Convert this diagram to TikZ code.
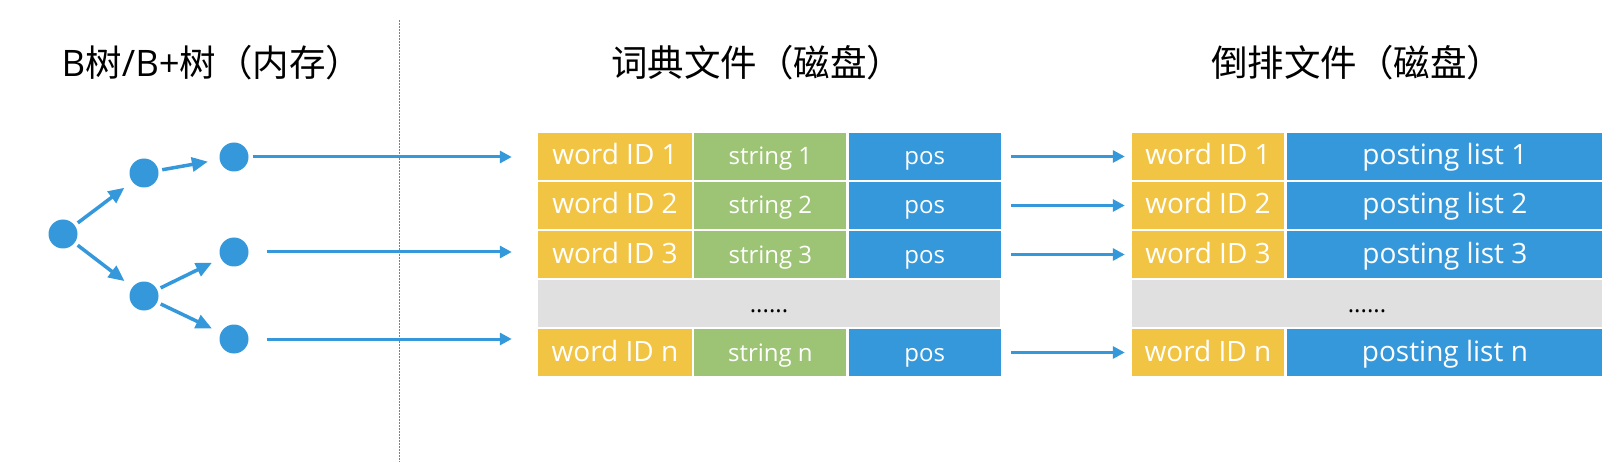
\documentclass[tikz,border=0pt]{standalone}
\usepackage{fontspec}
\setmainfont{Open Sans}
\newfontfamily\cjkfont{Noto Sans CJK SC}
\usepackage{tikz}
\usetikzlibrary{arrows.meta, positioning}
\definecolor{CellYellow}{HTML}{F2C443}
\definecolor{CellGreen}{HTML}{9CC474}
\definecolor{CellBlue}{HTML}{3598DB}
\definecolor{CellGray}{HTML}{E0E0E0}
\tikzset{
  titletext/.style={font=\cjkfont\fontsize{36.5}{40}\selectfont, text=black},
  cellbox/.style={rectangle, inner sep=0pt, minimum height=47pt, text height=19pt, text depth=2pt, text=white, font=\fontsize{28}{30}\selectfont},
  idbox/.style={cellbox, fill=CellYellow, minimum width=152pt},
  strbox/.style={cellbox, fill=CellGreen, minimum width=152pt, font=\fontsize{24}{26}\selectfont},
  posbox/.style={cellbox, fill=CellBlue, minimum width=152pt, font=\fontsize{24}{26}\selectfont},
  listbox/.style={cellbox, fill=CellBlue, minimum width=315pt},
  gapbox/.style={cellbox, fill=CellGray, text=black, font=\fontsize{24}{26}\selectfont},
  treenode/.style={circle, fill=CellBlue, minimum size=29pt, inner sep=0pt, outer sep=4pt},
  arrow/.style={-{Triangle[length=12pt, width=12pt]}, line width=3pt, CellBlue},
  treearrow/.style={-{Triangle[length=16pt, width=14pt]}, line width=3.5pt, CellBlue, shorten >=6pt},
  divider/.style={gray, line width=1pt, dash pattern=on 2pt off 1pt}
}

\begin{document}
\begin{tikzpicture}[x=1pt, y=-1pt]
  \useasboundingbox (0,0) rectangle (1624,462);

  % titles
  \node[titletext] (ttree) at (212,63) {{\normalfont B}树{\normalfont /B+}树（内存）};
  \node[titletext] (tdict) at (757,63) {词典文件（磁盘）};
  \node[titletext] (tinv) at (1357,63) {倒排文件（磁盘）};

  \draw[divider] (399,20) -- (399,462);

  % B tree
  \node[treenode] (root) at (63,234) {};
  \node[treenode] (upper) at (144,173) {};
  \node[treenode] (lower) at (144,296) {};
  \node[treenode] (leaf1) at (234,157) {};
  \node[treenode] (leaf2) at (234,252) {};
  \node[treenode] (leaf3) at (234,339) {};

  \draw[treearrow] (root) -- (upper);
  \draw[treearrow] (root) -- (lower);
  \draw[treearrow, shorten >=8pt] (upper) -- (leaf1);
  \draw[treearrow] (lower) -- (leaf2);
  \draw[treearrow] (lower) -- (leaf3);

  % dictionary file
  \node[idbox, minimum width=154pt] (did1) at (615,156.5) {word ID 1};
  \node[strbox, right=2pt of did1] (dstr1) {string 1};
  \node[posbox, right=2pt of dstr1] (dpos1) {pos};
  \node[idbox, minimum width=154pt] (did2) at (615,205.5) {word ID 2};
  \node[strbox, right=2pt of did2] (dstr2) {string 2};
  \node[posbox, right=2pt of dstr2] (dpos2) {pos};
  \node[idbox, minimum width=154pt] (did3) at (615,254.5) {word ID 3};
  \node[strbox, right=2pt of did3] (dstr3) {string 3};
  \node[posbox, right=2pt of dstr3] (dpos3) {pos};
  \node[gapbox, minimum width=462pt] (dgap) at (769,303.5) {......};
  \node[idbox, minimum width=154pt] (didn) at (615,352.5) {word ID n};
  \node[strbox, right=2pt of didn] (dstrn) {string n};
  \node[posbox, right=2pt of dstrn] (dposn) {pos};

  % inverted file
  \node[idbox] (iid1) at (1208,156.5) {word ID 1};
  \node[listbox, right=3pt of iid1] (ilist1) {posting list 1};
  \node[idbox] (iid2) at (1208,205.5) {word ID 2};
  \node[listbox, right=3pt of iid2] (ilist2) {posting list 2};
  \node[idbox] (iid3) at (1208,254.5) {word ID 3};
  \node[listbox, right=3pt of iid3] (ilist3) {posting list 3};
  \node[gapbox, minimum width=470pt] (igap) at (1367,303.5) {......};
  \node[idbox] (iidn) at (1208,352.5) {word ID n};
  \node[listbox, right=3pt of iidn] (ilistn) {posting list n};

  \draw[arrow, shorten >=26pt] (leaf1.east) -- (leaf1 -| did1.west);
  \draw[arrow, shorten <=14pt, shorten >=26pt] (leaf2.east) -- (leaf2 -| did3.west);
  \draw[arrow, shorten <=14pt, shorten >=26pt] (leaf3.east) -- (leaf3 -| didn.west);

  \draw[arrow, shorten <=10pt, shorten >=7pt] (dpos1) -- (iid1);
  \draw[arrow, shorten <=10pt, shorten >=7pt] (dpos2) -- (iid2);
  \draw[arrow, shorten <=10pt, shorten >=7pt] (dpos3) -- (iid3);
  \draw[arrow, shorten <=10pt, shorten >=7pt] (dposn) -- (iidn);
\end{tikzpicture}
\end{document}
